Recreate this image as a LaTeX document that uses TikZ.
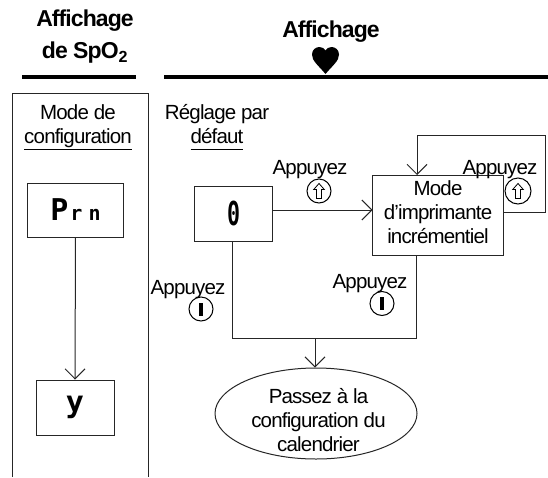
\documentclass[tikz,border=0pt]{standalone}
\usepackage{fontspec}
\setmainfont{Liberation Sans}[LetterSpace=-4]
\newfontfamily\lcdfont{DejaVu Sans Mono}[BoldFont={DejaVu Sans Mono Bold}]
\usetikzlibrary{arrows.meta,calc,shapes.geometric}
\newcommand{\ulx}[1]{\underline{\vphantom{g}#1}}
\newcommand{\lcdbig}{\fontsize{30}{30}\selectfont}
\newcommand{\lcdsmall}{\fontsize{20}{30}\selectfont}
\tikzset{
  x=1pt,y=-1pt,
  lw/.style={line width=1pt,draw=black!85},
  labeltext/.style={font=\fontsize{20.5}{24}\selectfont,align=center,inner sep=0pt},
  titletext/.style={font=\fontsize{23}{32}\selectfont\bfseries,align=center,inner sep=0pt},
  lcdbox/.style={lw,rectangle,inner sep=0pt,font=\lcdbig\lcdfont\bfseries},
  link/.style={lw},
  arrowlink/.style={lw,-{Straight Barb[length=10pt,width=20pt,line width=1pt]}},
  keycirc/.style={circle,draw=black,line width=1pt,minimum size=24pt,inner sep=0pt},
  rulebar/.style={line width=4pt,black},
  upkey/.pic={\draw[line width=.8pt,line join=miter] (0,-7.5)--(5.3,-1.5)--(2.5,-1.5)--(2.5,7.5)--(-2.5,7.5)--(-2.5,-1.5)--(-5.3,-1.5)--cycle;},
  barkey/.pic={\fill[black] (-2,-6.5) rectangle (2,6.5);}
}
\begin{document}
\begin{tikzpicture}
\useasboundingbox (0,0) rectangle (548,477);
% titles and rules
\node[titletext] (t1) at (85,37) {Affichage\\de SpO\textsubscript{2}};
\node[titletext] (t2) at (331,32) {Affichage};
\fill[black] (325.5,74) .. controls (318,65) and (312,61) .. (312,54.5) .. controls (312,49.5) and (316,47) .. (319.5,47) .. controls (322,47) and (324.5,48.5) .. (325.5,50.5) .. controls (326.5,48.5) and (329,47) .. (331.5,47) .. controls (335,47) and (339,49.5) .. (339,54.5) .. controls (339,61) and (333,65) .. (325.5,74) -- cycle;
\draw[rulebar] (22,77) -- (136,77);
\draw[rulebar] (164,77) -- (548,77);
% left panel
\draw[lw] (12.5,477) -- (12.5,93) -- (148,93) -- (148,477);
\node[labeltext] (modecfg) at (78,127.5) {Mode de\\\underline{configuration}};
\node[lcdbox,minimum width=96pt,minimum height=54pt] (prn) at (75.5,210) {P\hspace{2pt}{\lcdsmall r\hspace{6pt}n}};
\node[lcdbox,minimum width=78pt,minimum height=55pt] (ybox) at (75,407.5) {y};
\draw[arrowlink] (prn.south) -- (ybox.north);
% right part
\node[labeltext] (reglage) at (217,127.5) {Réglage par\\\ulx{défaut}};
\node[lcdbox,minimum width=78pt,minimum height=55pt] (zero) at (233.5,213.5) {\scalebox{.72}[1.1]{0}};
\node[lw,rectangle,minimum width=130.5pt,minimum height=80pt,inner sep=0pt] (mode) at (437.75,215) {};
\node[labeltext] (modetext) at (438,212) {Mode\\d’imprimante\\incrémentiel};
\node[lw,ellipse,minimum width=202pt,minimum height=91pt,inner sep=0pt] (end) at (316,413.5) {};
\node[labeltext] (endtext) at (318.5,420.5) {Passez à la\\configuration du\\calendrier};
% connectors
\coordinate (l1) at (545,212);
\coordinate (l2) at (545,135);
\coordinate (l3) at (417,135);
\coordinate (l4) at (417,175);
\draw[link,arrowlink] (mode.east |- l1) -- (l1) -- (l2) -- (l3) -- (l4);
\coordinate (z1) at (272.5,210);
\coordinate (m1) at (372.5,210);
\draw[arrowlink] (z1) -- (m1);
\coordinate (z2) at (232,241);
\coordinate (j1) at (232,338.5);
\coordinate (j2) at (416.5,338.5);
\coordinate (m2) at (416.5,255);
\draw[link] (z2) -- (j1) -- (j2) -- (m2);
\coordinate (j3) at (315,338.5);
\coordinate (e1) at (315,367.5);
\draw[arrowlink] (j3) -- (e1);
% key labels
\node[labeltext] (a1) at (310,170) {Appuyez};
\node[keycirc] (k1) at (319,191) {};
\pic at (k1) {upkey};
\node[labeltext] (a2) at (500,170) {Appuyez};
\node[keycirc,minimum size=26pt] (k2) at (518,191) {};
\pic at (k2) {upkey};
\node[labeltext] (a3) at (188,290) {Appuyez};
\node[keycirc] (k3) at (201,309) {};
\pic at (k3) {barkey};
\node[labeltext] (a4) at (370,284) {Appuyez};
\node[keycirc] (k4) at (382,303.5) {};
\pic at (k4) {barkey};
\end{tikzpicture}
\end{document}
